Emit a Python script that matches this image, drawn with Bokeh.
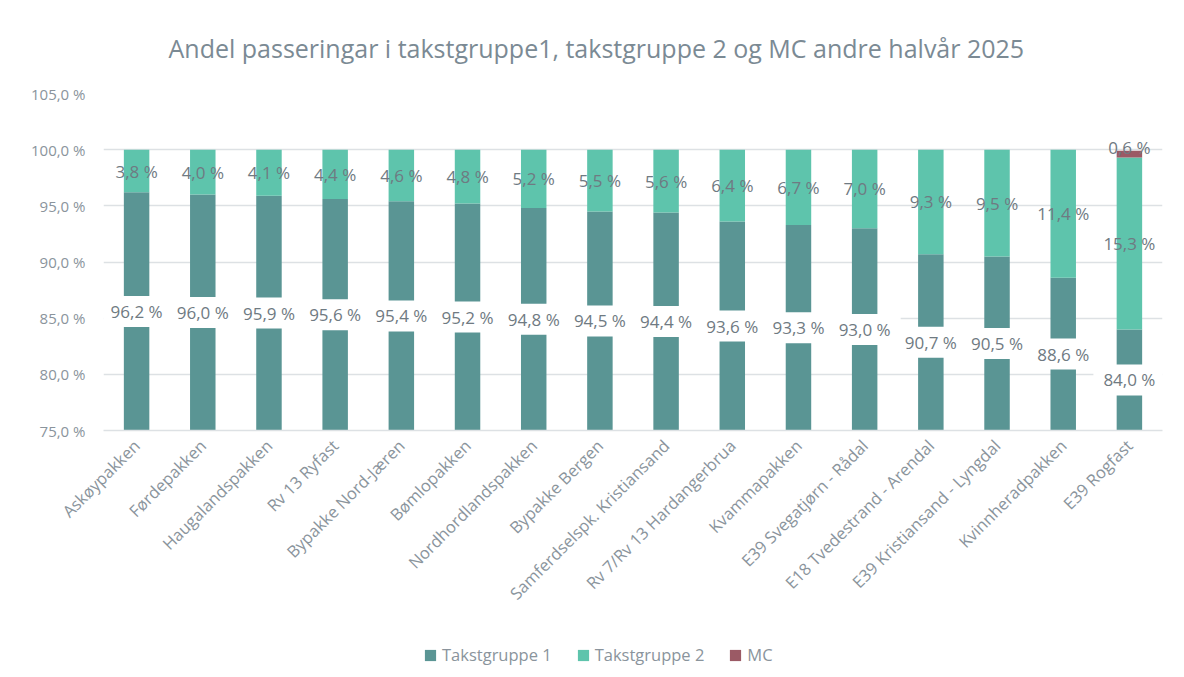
from math import pi
from bokeh.plotting import figure
from bokeh.layouts import column
from bokeh.models import ColumnDataSource, Range1d, FixedTicker, Legend, LegendItem
from bokeh.core.properties import value
from bokeh.embed import file_html
from bokeh.resources import INLINE

title_text = "Andel passeringar i takstgruppe1, takstgruppe 2 og MC andre halvår 2025"
categories = ["Askøypakken", "Førdepakken", "Haugalandspakken", "Rv 13 Ryfast",
              "Bypakke Nord-Jæren", "Bømlopakken", "Nordhordlandspakken", "Bypakke Bergen",
              "Samferdselspk. Kristiansand", "Rv 7/Rv 13 Hardangerbrua", "Kvammapakken",
              "E39 Svegatjørn - Rådal", "E18 Tvedestrand - Arendal",
              "E39 Kristiansand - Lyngdal", "Kvinnheradpakken", "E39 Rogfast"]
takst1 = [96.2, 96.0, 95.9, 95.6, 95.4, 95.2, 94.8, 94.5, 94.4, 93.6, 93.3, 93.0, 90.7, 90.5, 88.6, 84.0]
takst2 = [3.8, 4.0, 4.1, 4.4, 4.6, 4.8, 5.2, 5.5, 5.6, 6.4, 6.7, 7.0, 9.3, 9.5, 11.4, 15.3]
mc = [0, 0, 0, 0, 0, 0, 0, 0, 0, 0, 0, 0, 0, 0, 0, 0.6]
series_names = ["Takstgruppe 1", "Takstgruppe 2", "MC"]
y_ticks = [75, 80, 85, 90, 95, 100, 105]
y_min, y_max = 75, 105

C1, C2, C3 = "#5A9594", "#5EC4AC", "#9B5A65"
colors = [C1, C2, C3]
FONT = "Open Sans"
TICK_COL = "#8A949C"
LAB_COL = "#6F7A82"

def fmt(v):
    return f"{v:.1f}".replace(".", ",") + " %"

src = ColumnDataSource(dict(cat=categories, t1=takst1, t2=takst2, mc=mc))

p = figure(x_range=categories, y_range=Range1d(y_min, y_max), width=1168, height=635,
           output_backend="svg", toolbar_location=None,
           min_border_left=103, min_border_right=6, min_border_top=93, min_border_bottom=205)

rs = p.vbar_stack(["t1", "t2", "mc"], x="cat", width=0.385, source=src,
                  color=colors, line_color=None)

# labels
t1_src = ColumnDataSource(dict(x=categories, y=[(y_min + v) / 2 for v in takst1],
                               text=[fmt(v) for v in takst1]))
t2_src = ColumnDataSource(dict(x=categories, y=[a + b / 2 for a, b in zip(takst1, takst2)],
                               text=[fmt(v) for v in takst2]))
mc_x = [c for c, m in zip(categories, mc) if m > 0]
mc_y = [a + b + m / 2 for a, b, m in zip(takst1, takst2, mc) if m > 0]
mc_src = ColumnDataSource(dict(x=mc_x, y=mc_y, text=[fmt(m) for m in mc if m > 0]))

p.text(x="x", y="y", text="text", source=t1_src, text_align="center", text_baseline="middle",
       text_font=value(FONT), text_font_size="17px", text_color=LAB_COL,
       background_fill_color="white", padding=dict(x=10, y=4))
p.text(x="x", y="y", text="text", source=t2_src, text_align="center", text_baseline="middle",
       text_font=value(FONT), text_font_size="17px", text_color=LAB_COL)
p.text(x="x", y="y", text="text", source=mc_src, text_align="center", text_baseline="middle",
       text_font=value(FONT), text_font_size="17px", text_color=LAB_COL, y_offset=-7)

# title
p.title.text = title_text
p.title.align = "left"
p.title.text_font = FONT
p.title.text_font_size = "25px"
p.title.text_font_style = "normal"
p.title.text_color = "#7B8A94"
p.title.offset = 65
p.title.standoff = 57

# axes
GRID = "#DDE1E4"
p.yaxis.ticker = FixedTicker(ticks=y_ticks)
p.yaxis.major_label_overrides = {t: fmt(t) for t in y_ticks}
p.yaxis.axis_line_color = None
p.yaxis.major_tick_line_color = None
p.yaxis.minor_tick_line_color = None
p.yaxis.major_label_text_font = FONT
p.yaxis.major_label_text_font_size = "15px"
p.yaxis.major_label_text_color = TICK_COL
p.yaxis.major_label_standoff = 12

p.xaxis.axis_line_color = GRID
p.xaxis.axis_line_width = 1.5
p.xaxis.major_tick_line_color = None
p.xaxis.minor_tick_line_color = None
p.xaxis.major_label_orientation = pi / 4
p.xaxis.major_label_text_font = FONT
p.xaxis.major_label_text_font_size = "16.5px"
p.xaxis.major_label_text_color = TICK_COL
p.xaxis.major_label_standoff = 6

p.xgrid.grid_line_color = None
p.ygrid.grid_line_color = GRID
p.ygrid.grid_line_width = 1.5
p.outline_line_color = None

# legend strip below the chart (swatch renderers sit outside the visible range)
p2 = figure(width=1168, height=34, x_range=Range1d(0, 1), y_range=Range1d(0, 1),
            output_backend="svg", toolbar_location=None,
            x_axis_type=None, y_axis_type=None,
            min_border_left=103, min_border_right=6, min_border_top=0, min_border_bottom=0)
p2.outline_line_color = None
p2.grid.grid_line_color = None
swatch = ColumnDataSource(dict(x=[-5], top=[-5]))
dummies = [p2.vbar(x="x", top="top", width=0.1, source=swatch, color=c, line_color=None)
           for c in colors]
legend = Legend(items=[LegendItem(label=n, renderers=[r]) for n, r in zip(series_names, dummies)],
                orientation="horizontal", location=(320, 3),
                glyph_width=14, glyph_height=14, label_standoff=5, spacing=24,
                padding=0, margin=0, border_line_color=None, background_fill_alpha=0,
                label_text_font=FONT, label_text_font_size="16.5px", label_text_color=TICK_COL)
p2.add_layout(legend)

layout = column(p, p2, spacing=0)
open("out.html", "w").write(file_html(layout, INLINE))
